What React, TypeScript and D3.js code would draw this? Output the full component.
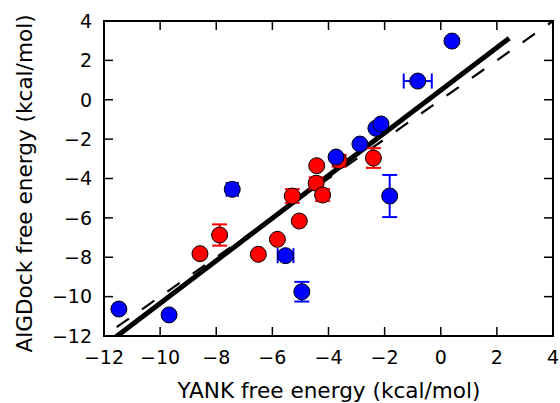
import React from "react";
import * as d3 from "d3";

const blueX = [-11.47, -9.68, -7.43, -5.53, -4.95, -3.73, -2.88, -2.31, -2.13, -1.82, -0.82, 0.40];
const blueY = [-10.63, -10.93, -4.55, -7.92, -9.75, -2.91, -2.25, -1.45, -1.23, -4.89, 0.95, 2.98];
const blueXErr = [0.05, 0.05, 0.2, 0.28, 0.1, 0.05, 0.1, 0.05, 0.05, 0.1, 0.5, 0.05];
const blueYErr = [0.05, 0.05, 0.1, 0.1, 0.5, 0.1, 0.1, 0.1, 0.1, 1.07, 0.1, 0.1];

const redX = [-8.58, -7.88, -6.50, -5.82, -5.29, -5.04, -4.44, -4.21, -4.42, -3.62, -2.40];
const redY = [-7.82, -6.87, -7.85, -7.09, -4.89, -6.16, -4.24, -4.84, -3.35, -3.1, -2.96];
const redXErr = [0.05, 0.05, 0.05, 0.05, 0.05, 0.05, 0.05, 0.05, 0.05, 0.05, 0.05];
const redYErr = [0.1, 0.54, 0.1, 0.1, 0.35, 0.1, 0.3, 0.3, 0.1, 0.3, 0.5];

const xTicks = [-12, -10, -8, -6, -4, -2, 0, 2, 4];
const yTicks = [-12, -10, -8, -6, -4, -2, 0, 2, 4];

const fitSlope = 1.082;
const fitIntercept = 0.48;
const fitRange = [-11.7, 2.44];
const identityRange = [-11.55, 3.95];

const W = 560, H = 403;
const L = 104, R = 553, T = 21, B = 336;
const font = "DejaVu Sans";

const fmt = (v: number) => (v < 0 ? "\u2212" + Math.abs(v) : String(v));

export default function App() {
  const x = d3.scaleLinear().domain([-12, 4]).range([L, R]);
  const y = d3.scaleLinear().domain([-12, 4]).range([B, T]);
  const line = d3.line<number>().x((v) => x(v)).y((v) => y(fitSlope * v + fitIntercept));
  const idLine = d3.line<number>().x((v) => x(v)).y((v) => y(v));
  const cap = 7.5;

  const renderSeries = (xs: number[], ys: number[], xe: number[], ye: number[], color: string, key: string) => (
    <g key={key}>
      {xs.map((xv, i) => {
        const cx = x(xv), cy = y(ys[i]);
        const x0 = x(xv - xe[i]), x1 = x(xv + xe[i]);
        const y0 = y(ys[i] - ye[i]), y1 = y(ys[i] + ye[i]);
        return (
          <g key={i} stroke={color} strokeWidth={2}>
            <line x1={x0} x2={x1} y1={cy} y2={cy} />
            <line x1={x0} x2={x0} y1={cy - cap} y2={cy + cap} />
            <line x1={x1} x2={x1} y1={cy - cap} y2={cy + cap} />
            <line x1={cx} x2={cx} y1={y0} y2={y1} />
            <line x1={cx - cap} x2={cx + cap} y1={y0} y2={y0} />
            <line x1={cx - cap} x2={cx + cap} y1={y1} y2={y1} />
          </g>
        );
      })}
      {xs.map((xv, i) => (
        <circle key={"c" + i} cx={x(xv)} cy={y(ys[i])} r={8} fill={color} stroke="#000" strokeWidth={1} />
      ))}
    </g>
  );

  return (
    <svg width={W} height={H} style={{ position: "absolute", left: 0, top: 0, background: "#fff" }}>
      <defs>
        <clipPath id="plotclip">
          <rect x={L} y={T} width={R - L} height={B - T} />
        </clipPath>
      </defs>
      <g clipPath="url(#plotclip)">
        <path d={idLine(identityRange) || ""} stroke="#000" strokeWidth={2.2} fill="none" strokeDasharray="15,16" />
        <path d={line(fitRange) || ""} stroke="#000" strokeWidth={5} fill="none" />
      </g>
      {renderSeries(redX, redY, redXErr, redYErr, "#ff0000", "red")}
      {renderSeries(blueX, blueY, blueXErr, blueYErr, "#0000ff", "blue")}
      {xTicks.slice(1, -1).map((t) => (
        <g key={"xt" + t} stroke="#000" strokeWidth={1.5}>
          <line x1={x(t)} x2={x(t)} y1={B} y2={B - 9} />
          <line x1={x(t)} x2={x(t)} y1={T} y2={T + 9} />
        </g>
      ))}
      {yTicks.slice(1, -1).map((t) => (
        <g key={"yt" + t} stroke="#000" strokeWidth={1.5}>
          <line x1={L} x2={L + 9} y1={y(t)} y2={y(t)} />
          <line x1={R} x2={R - 9} y1={y(t)} y2={y(t)} />
        </g>
      ))}
      <rect x={L} y={T} width={R - L} height={B - T} fill="none" stroke="#000" strokeWidth={2} />
      {xTicks.map((t) => (
        <text key={"xl" + t} x={x(t)} y={364} textAnchor="middle" fontFamily={font} fontSize={19} fill="#000">
          {fmt(t)}
        </text>
      ))}
      {yTicks.map((t) => (
        <text key={"yl" + t} x={92} y={y(t)} dy="0.36em" textAnchor="end" fontFamily={font} fontSize={19} fill="#000">
          {fmt(t)}
        </text>
      ))}
      <text x={(L + R) / 2 + 0.5} y={398} textAnchor="middle" fontFamily={font} fontSize={21.6} fill="#000">
        YANK free energy (kcal/mol)
      </text>
      <text transform={`translate(32,${(T + B) / 2 + 5}) rotate(-90)`} textAnchor="middle" fontFamily={font} fontSize={21.6} fill="#000">
        AlGDock free energy (kcal/mol)
      </text>
    </svg>
  );
}
